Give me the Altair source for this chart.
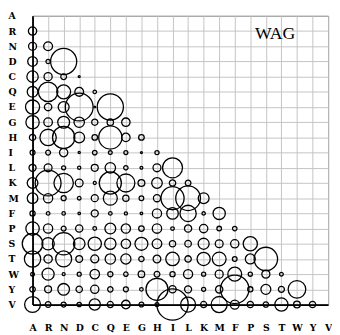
import altair as alt
import pandas as pd

amino = ["A", "R", "N", "D", "C", "Q", "E", "G", "H", "I",
         "L", "K", "M", "F", "P", "S", "T", "W", "Y", "V"]

# WAG exchangeabilities, lower triangle (row amino acid vs. earlier columns)
row_R = [0.551571]
row_N = [0.509848, 0.635346]
row_D = [0.738998, 0.147304, 5.429420]
row_C = [1.027040, 0.528191, 0.265256, 0.0302949]
row_Q = [0.908598, 3.035500, 1.543640, 0.616783, 0.0988179]
row_E = [1.582850, 0.439157, 0.947198, 6.174160, 0.021352, 5.469470]
row_G = [1.416720, 0.584665, 1.125560, 0.865584, 0.306674, 0.330052, 0.567717]
row_H = [0.316954, 2.137150, 3.956290, 0.930676, 0.248972, 4.294110, 0.570025, 0.249410]
row_I = [0.193335, 0.186979, 0.554236, 0.039437, 0.170135, 0.113917, 0.127395, 0.0304501, 0.138190]
row_L = [0.397915, 0.497671, 0.131528, 0.0848047, 0.384287, 0.869489, 0.154263, 0.0613037, 0.499462, 3.170970]
row_K = [0.906265, 5.351420, 3.012010, 0.479855, 0.0740339, 3.894900, 2.584430, 0.373558, 0.890432, 0.323832,
         0.257555]
row_M = [0.893496, 0.683162, 0.198221, 0.103754, 0.390482, 1.545260, 0.315124, 0.174100, 0.404141, 4.257460,
         4.854020, 0.934276]
row_F = [0.210494, 0.102711, 0.0961621, 0.0467304, 0.398020, 0.0999208, 0.0811339, 0.049931, 0.679371, 1.059470,
         2.115170, 0.088836, 1.190630]
row_P = [1.438550, 0.679489, 0.195081, 0.423984, 0.109404, 0.933372, 0.682355, 0.243570, 0.696198, 0.0999288,
         0.415844, 0.556896, 0.171329, 0.161444]
row_S = [3.370790, 1.224190, 3.974230, 1.071760, 1.407660, 1.028870, 0.704939, 1.341820, 0.740169, 0.319440,
         0.344739, 0.967130, 0.493905, 0.545931, 1.613280]
row_T = [2.121110, 0.554413, 2.030060, 0.374866, 0.512984, 0.857928, 0.822765, 0.225833, 0.473307, 1.458160,
         0.326622, 1.386980, 1.516120, 0.171903, 0.795384, 4.378020]
row_W = [0.113133, 1.163920, 0.0719167, 0.129767, 0.717070, 0.215737, 0.156557, 0.336983, 0.262569, 0.212483,
         0.665309, 0.137505, 0.515706, 1.529640, 0.139405, 0.523742, 0.110864]
row_Y = [0.240735, 0.381533, 1.086000, 0.325711, 0.543833, 0.227710, 0.196303, 0.103604, 3.873440, 0.420170,
         0.398618, 0.133264, 0.428437, 6.454280, 0.216046, 0.786993, 0.291148, 2.485390]
row_V = [2.006010, 0.251849, 0.196246, 0.152335, 1.002140, 0.301281, 0.588731, 0.187247, 0.118358, 7.821300,
         1.800340, 0.305434, 2.058450, 0.649892, 0.314887, 0.232739, 1.388230, 0.365369, 0.314730]

rows = [row_R, row_N, row_D, row_C, row_Q, row_E, row_G, row_H, row_I, row_L,
        row_K, row_M, row_F, row_P, row_S, row_T, row_W, row_Y, row_V]

records = []
for i, vals in enumerate(rows, start=1):
    for j, v in enumerate(vals):
        records.append({"row": amino[i], "col": amino[j], "value": v})
df = pd.DataFrame(records)

axis_common = dict(
    title=None, ticks=False, grid=True, gridColor="#c4c4c4", gridWidth=1,
    domainColor="black", domainWidth=1.8,
    labelFont="DejaVu Serif", labelFontWeight="bold", labelFontSize=9.5,
    labelColor="black",
)

circles = alt.Chart(df).mark_point(
    shape="circle", filled=False, color="black", strokeWidth=1.3, opacity=1
).encode(
    x=alt.X("col:N", scale=alt.Scale(type="point", domain=amino, padding=0),
            axis=alt.Axis(labelAngle=0, labelPadding=18, **axis_common)),
    y=alt.Y("row:N", scale=alt.Scale(type="point", domain=amino, padding=0),
            axis=alt.Axis(labelPadding=25, labelAlign="left", **axis_common)),
    size=alt.Size("value:Q", scale=alt.Scale(type="linear", domain=[0, 8], range=[0, 1040]),
                  legend=None),
)

label = alt.Chart(pd.DataFrame({"t": ["WAG"]})).mark_text(
    font="Liberation Serif", fontSize=18, color="black", align="center", baseline="middle"
).encode(text="t:N", x=alt.value(247), y=alt.value(19))

chart = alt.layer(circles, label).properties(
    width=301, height=294, padding=0
).configure_view(stroke="black", strokeWidth=1)

chart.save("out.html", embed_options={"renderer": "svg", "actions": False})
